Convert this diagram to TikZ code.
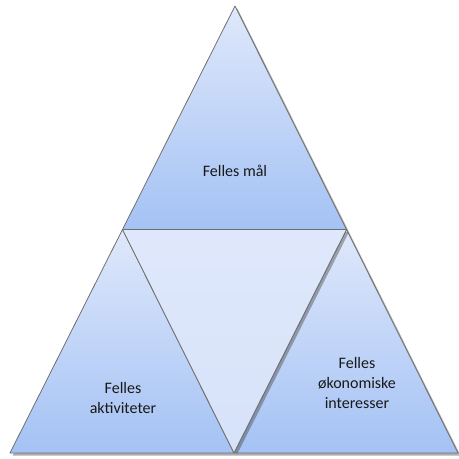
\documentclass[tikz,border=0pt]{standalone}
\usepackage{fontspec}
\setmainfont{Carlito}
\usetikzlibrary{shadows}
\definecolor{paleblue}{HTML}{DFE8FB}
\definecolor{midblue}{HTML}{A4C2F4}
\definecolor{edgegray}{HTML}{6F6F6F}
\tikzset{
  part/.style={draw=edgegray, line width=0.8pt, line join=round,
    drop shadow={shadow xshift=2.5pt, shadow yshift=-2.5pt, opacity=0.45, fill=black!70}},
  grad/.style={top color=paleblue, bottom color=midblue},
  label/.style={font=\fontsize{16}{20}\selectfont, text=black!90, align=center, inner sep=0pt}
}
\begin{document}
\begin{tikzpicture}[x=1pt, y=-1pt]
\useasboundingbox (0,0) rectangle (459,459);
% corner and edge-midpoint coordinates
\coordinate (apex) at (235,6);
\coordinate (bl) at (10,453);
\coordinate (br) at (458,453);
\coordinate (ml) at (122.5,229.5);
\coordinate (mr) at (346.5,229.5);
\coordinate (mb) at (234,453);
% the four triangles
\path[part, grad] (apex) -- (mr) -- (ml) -- cycle;
\path[part, grad] (ml) -- (mb) -- (bl) -- cycle;
\path[part, grad] (mr) -- (br) -- (mb) -- cycle;
\path[part, top color=paleblue, bottom color=paleblue!85!midblue] (ml) -- (mr) -- (mb) -- cycle;
% labels
\node[label] (goal) at (235,171) {Felles mål};
\node[label] (act) at (123,398) {Felles\\aktiviteter};
\node[label] (econ) at (357,383) {Felles\\økonomiske\\interesser};
\end{tikzpicture}
\end{document}
